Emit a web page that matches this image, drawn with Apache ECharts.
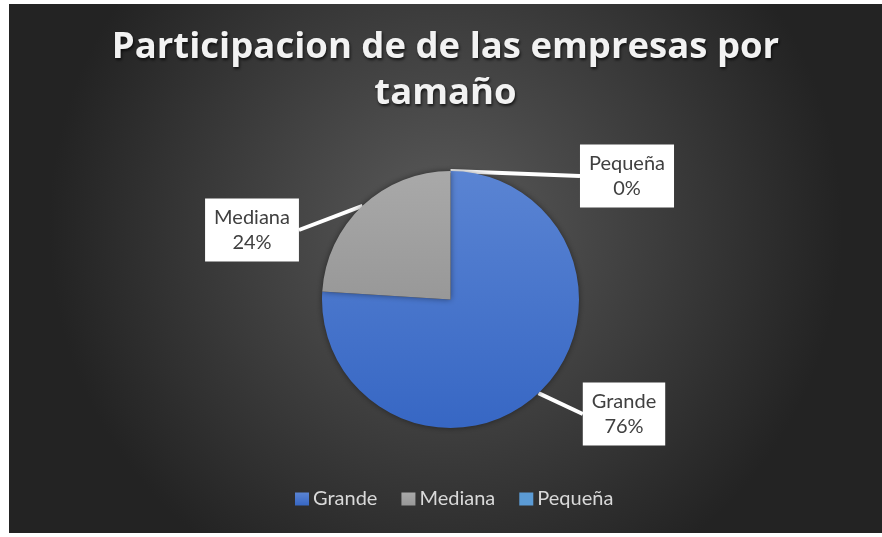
<!DOCTYPE html>
<html>
<head>
<meta charset="utf-8">
<script src="https://cdn.jsdelivr.net/npm/echarts@6/dist/echarts.min.js"></script>
<style>
	html,
	body {
		margin: 0;
		padding: 0;
		background: #ffffff;
		width: 882px;
		height: 537px;
		overflow: hidden;
	}
	.com-chart {
		position: absolute;
		left: 9px;
		top: 4px;
		width: 873px;
		height: 529px;
	}
</style>
</head>
<body>
<div class="com-chart" id="pie_ref"></div>
<script>
// datos del grafico
const categories = ["Grande", "Mediana", "Pequeña"];
const values = [76, 24, 0];
const titleText = "Participacion de de las empresas por\ntamaño";

// colores de cada tamaño (arriba, abajo)
const colorTop = ["#5a84d3", "#a9a9a9", "#5b9bd5"];
const colorBottom = ["#3767c4", "#989898", "#5b9bd5"];
// centro de cada etiqueta (callout)
const labelPos = [
	[615, 410],
	[243, 226],
	[618, 172],
];

const chartInstance = echarts.init(document.getElementById("pie_ref"));

const seriesData = categories.map((name, i) => {
	return {
		name: name,
		value: values[i],
		itemStyle: {
			color: new echarts.graphic.LinearGradient(0, 0, 0, 1, [
				{ offset: 0, color: colorTop[i] },
				{ offset: 1, color: colorBottom[i] },
			]),
		},
	};
});

const option = {
	backgroundColor: new echarts.graphic.RadialGradient(0.5, 0.42, 0.75, [
		{ offset: 0, color: "#5a5a5a" },
		{ offset: 1, color: "#232323" },
	]),
	title: {
		text: titleText,
		left: "center",
		top: 21,
		padding: 0,
		textStyle: {
			fontFamily: "Open Sans",
			fontWeight: "bold",
			fontSize: 36.5,
			lineHeight: 46,
			color: "#f2f2f2",
			textShadowColor: "rgba(0,0,0,0.7)",
			textShadowBlur: 3,
			textShadowOffsetX: 1,
			textShadowOffsetY: 2,
		},
	},
	legend: {
		left: 286,
		top: 485,
		padding: 0,
		icon: "rect",
		itemWidth: 14,
		itemHeight: 13,
		itemGap: 24,
		data: categories,
		textStyle: {
			fontFamily: "Lato",
			fontSize: 20,
			color: "#d9d9d9",
			padding: [0, 0, 0, -1],
		},
	},
	series: [
		{
			type: "pie",
			center: [441.5, 295.5],
			radius: 128.5,
			startAngle: 90,
			clockwise: true,
			data: seriesData,
			itemStyle: {
				shadowColor: "rgba(0,0,0,0.45)",
				shadowBlur: 6,
			},
			label: {
				show: true,
				formatter: "{b}\n{d}%",
				fontFamily: "Lato",
				fontSize: 20,
				lineHeight: 25,
				color: "#404040",
				backgroundColor: "#ffffff",
				padding: [7, 9, 6, 9],
				align: "center",
			},
			labelLine: {
				show: true,
				length: 10,
				length2: 0,
				lineStyle: {
					color: "#ffffff",
					width: 4,
				},
			},
			labelLayout: (params) => {
				const p = labelPos[params.dataIndex];
				return {
					x: p[0],
					y: p[1],
					align: "center",
					verticalAlign: "middle",
				};
			},
			emphasis: {
				disabled: true,
			},
		},
	],
};
chartInstance.setOption(option);
</script>
</body>
</html>
